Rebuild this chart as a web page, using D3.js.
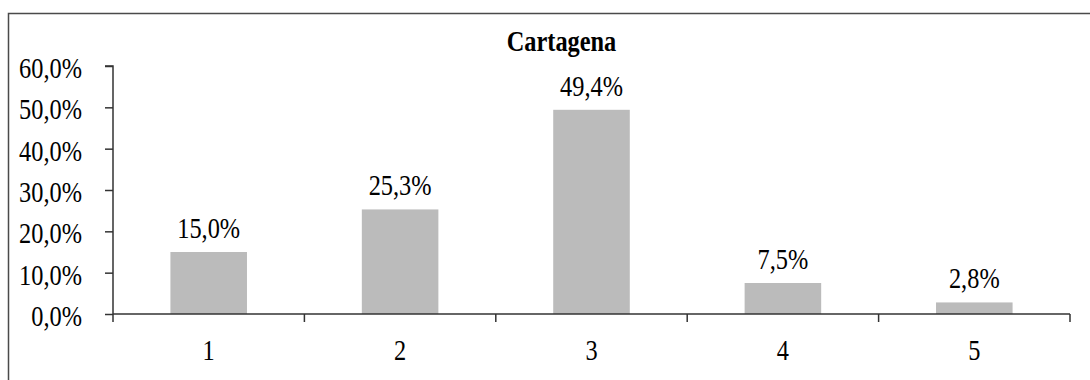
<!DOCTYPE html>
<html>
<head>
<meta charset="utf-8">
<script src="https://cdn.jsdelivr.net/npm/d3@7"></script>
<style>
  html, body { margin: 0; padding: 0; background: #fff; }
  svg { display: block; }
</style>
</head>
<body>
<svg id="chart" width="1090" height="380"></svg>
<script>
// Chart data
const title = "Cartagena";
const categories = ["1", "2", "3", "4", "5"];
const values = [15.0, 25.3, 49.4, 7.5, 2.8];
const yTicks = [0, 10, 20, 30, 40, 50, 60];

const W = 1090, H = 380;
const margin = { left: 113, top: 66 };
const plotRight = 1070, plotBottom = 314;
const FONT = '"Liberation Serif", "Times New Roman", serif';

const svg = d3.select("#chart");
const fmt = v => d3.format(".1f")(v).replace(".", ",") + "%";
const condense = 0.84;

// Outer frame (open to the right and bottom)
svg.append("rect")
  .attr("x", 8.5).attr("y", 13.5)
  .attr("width", W + 20).attr("height", H + 20)
  .attr("fill", "none").attr("stroke", "#4a4a4a").attr("stroke-width", 1.5);

const x = d3.scaleBand().domain(categories).range([margin.left, plotRight]).paddingInner(0.6).paddingOuter(0.3);
const xOuter = d3.scaleBand().domain(categories).range([margin.left, plotRight]);
const y = d3.scaleLinear().domain([0, 60]).range([plotBottom, margin.top]);

// Bars
svg.append("g").selectAll("rect").data(values).join("rect")
  .attr("x", (d, i) => x(categories[i]))
  .attr("width", x.bandwidth())
  .attr("y", d => y(d))
  .attr("height", d => y(0) - y(d))
  .attr("fill", "#bbbbbb");

// Condensed serif text helper
function label(g, tx, ty, str, anchor, size, weight) {
  const t = g.append("g").attr("transform", `translate(${tx},${ty}) scale(${condense},1)`);
  t.append("text").attr("text-anchor", anchor)
    .style("font-family", FONT)
    .style("font-size", size + "px").style("font-weight", weight || "normal")
    .style("fill", "#000")
    .text(str);
}

// Y axis
const yAxis = svg.append("g").attr("transform", `translate(${margin.left},0)`)
  .call(d3.axisLeft(y).tickValues(yTicks).tickSize(8).tickFormat(""));
yAxis.select(".domain").attr("stroke", "#333").attr("stroke-width", 1.5).attr("d", `M-8,${y(60)}H0V${y(0)}`);
yAxis.selectAll(".tick line").attr("stroke", "#333").attr("stroke-width", 1.5);
const yl = svg.append("g");
yTicks.forEach(v => label(yl, 82, y(v) + 12, fmt(v), "end", 29));

// X axis
const xAxis = svg.append("g").attr("transform", `translate(0,${plotBottom})`)
  .call(d3.axisBottom(xOuter).tickSize(0).tickFormat(""));
xAxis.select(".domain").attr("stroke", "#333").attr("stroke-width", 1.5).attr("d", `M${margin.left},0H${plotRight}`);
xAxis.selectAll(".tick line").remove();
const bounds = categories.map(c => xOuter(c)).concat([plotRight]);
xAxis.append("g").selectAll("line").data(bounds).join("line")
  .attr("x1", d => d).attr("x2", d => d).attr("y1", 0).attr("y2", 8)
  .attr("stroke", "#333").attr("stroke-width", 1.5);
const xl = svg.append("g");
categories.forEach(c => label(xl, xOuter(c) + xOuter.bandwidth() / 2, 360, c, "middle", 29));

// Value labels
const vl = svg.append("g");
values.forEach((v, i) => label(vl, x(categories[i]) + x.bandwidth() / 2, y(v) - 14, fmt(v), "middle", 29));

// Title
label(svg.append("g"), 561.5, 51, title, "middle", 29, "bold");
</script>
</body>
</html>
